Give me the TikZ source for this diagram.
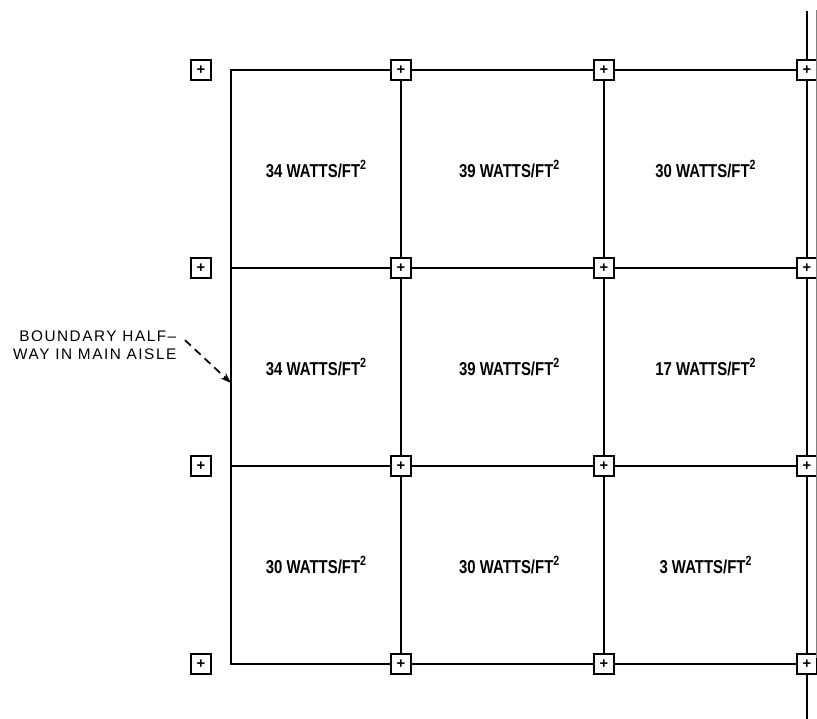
\documentclass[tikz,border=0pt]{standalone}
\usepackage{fontspec}
\setmainfont{Liberation Sans}
\newfontfamily\cellfont[FakeStretch=0.8]{Liberation Sans}
\newfontfamily\notefont[LetterSpace=10]{Liberation Sans}
\usetikzlibrary{positioning, arrows.meta, calc}
\newcommand{\persqft}{FT\raisebox{5.5pt}{\fontsize{10}{10}\selectfont 2}} % square feet
\tikzset{node distance=148.5pt and 152.25pt, % Row and column pitch of the grid
on grid, % Distances are measured centre to centre
outlet/.style={ % Small square with a cross in it
draw, line width=1.3pt,
fill=white,
minimum size=15pt, inner sep=0pt,
font=\fontsize{11}{11}\selectfont\bfseries},
load/.style={ % Label for the load of one bay
font=\cellfont\bfseries\fontsize{14}{16}\selectfont},
pointer/.style={ % Dashed arrow onto the boundary line
draw,-{Stealth[length=8pt,width=5.5pt]},
dash pattern=on 6pt off 4pt,
line width=1.3pt},
every edge/.style={ % Grid lines
draw, line width=1.3pt, line cap=rect}}

\begin{document}
\begin{tikzpicture}[x=0.75pt, y=0.75pt]
    \useasboundingbox (0,0) rectangle (817,718);

    % boundary corners
    \coordinate (c1) at (231,648);
    \coordinate[below=of c1] (c2);
    \coordinate[below=of c2] (c3);
    \coordinate[below=of c3] (c4);

    % free boxes left of the boundary
    \node[outlet] (lb1) at ([xshift=-22.5pt]c1) {+};
    \node[outlet] (lb2) at ([xshift=-22.5pt]c2) {+};
    \node[outlet] (lb3) at ([xshift=-22.5pt]c3) {+};
    \node[outlet] (lb4) at ([xshift=-22.5pt]c4) {+};

    % boxes on the grid
    \node[outlet] (b12) at ([xshift=127.5pt]c1) {+};
    \node[outlet, right=of b12] (b13) {+};
    \node[outlet, right=of b13] (b14) {+};
    \node[outlet, below=of b12] (b22) {+};
    \node[outlet, right=of b22] (b23) {+};
    \node[outlet, right=of b23] (b24) {+};
    \node[outlet, below=of b22] (b32) {+};
    \node[outlet, right=of b32] (b33) {+};
    \node[outlet, right=of b33] (b34) {+};
    \node[outlet, below=of b32] (b42) {+};
    \node[outlet, right=of b42] (b43) {+};
    \node[outlet, right=of b43] (b44) {+};

    % loose ends at the edge of the sheet
    \coordinate[above=43.5pt of b14] (t4);
    \coordinate[below=60pt of b44] (e4);
    \coordinate[right=20pt of b14] (r1);
    \coordinate[right=20pt of b24] (r2);
    \coordinate[right=20pt of b34] (r3);
    \coordinate[right=20pt of b44] (r4);

    % rows
    \draw (c1) edge (b12) (b12) edge (b13) (b13) edge (b14) (b14) edge (r1);
    \draw (c2) edge (b22) (b22) edge (b23) (b23) edge (b24) (b24) edge (r2);
    \draw (c3) edge (b32) (b32) edge (b33) (b33) edge (b34) (b34) edge (r3);
    \draw (c4) edge (b42) (b42) edge (b43) (b43) edge (b44) (b44) edge (r4);
    % columns
    \draw (c1) edge (c2) (c2) edge (c3) (c3) edge (c4);
    \draw (b12) edge (b22) (b22) edge (b32) (b32) edge (b42);
    \draw (b13) edge (b23) (b23) edge (b33) (b33) edge (b43);
    \draw (t4) edge (b14) (b14) edge (b24) (b24) edge (b34) (b34) edge (b44) (b44) edge (e4);
    \draw[gray, line width=0.6pt] (816,708) -- (816,60);

    % loads
    \node[load] (w11) at ($(c1)!0.5!(b22)$) {34 WATTS/\persqft};
    \node[load, xshift=5pt] (w12) at ($(b12)!0.5!(b23)$) {39 WATTS/\persqft};
    \node[load] (w13) at ($(b13)!0.5!(b24)$) {30 WATTS/\persqft};
    \node[load] (w21) at ($(c2)!0.5!(b32)$) {34 WATTS/\persqft};
    \node[load, xshift=5pt] (w22) at ($(b22)!0.5!(b33)$) {39 WATTS/\persqft};
    \node[load] (w23) at ($(b23)!0.5!(b34)$) {17 WATTS/\persqft};
    \node[load] (w31) at ($(c3)!0.5!(b42)$) {30 WATTS/\persqft};
    \node[load, xshift=5pt] (w32) at ($(b32)!0.5!(b43)$) {30 WATTS/\persqft};
    \node[load] (w33) at ($(b33)!0.5!(b44)$) {3 WATTS/\persqft};

    % callout
    \node[anchor=east, align=right, font=\notefont\fontsize{11.5}{13.5}\selectfont] (note) at (181,372.5) {BOUNDARY HALF–\\WAY IN MAIN AISLE};
    \coordinate (aim) at (231,335);
    \draw[pointer] ([shift={(3pt,4pt)}]note.east) -- (aim);

\end{tikzpicture}
\end{document}
